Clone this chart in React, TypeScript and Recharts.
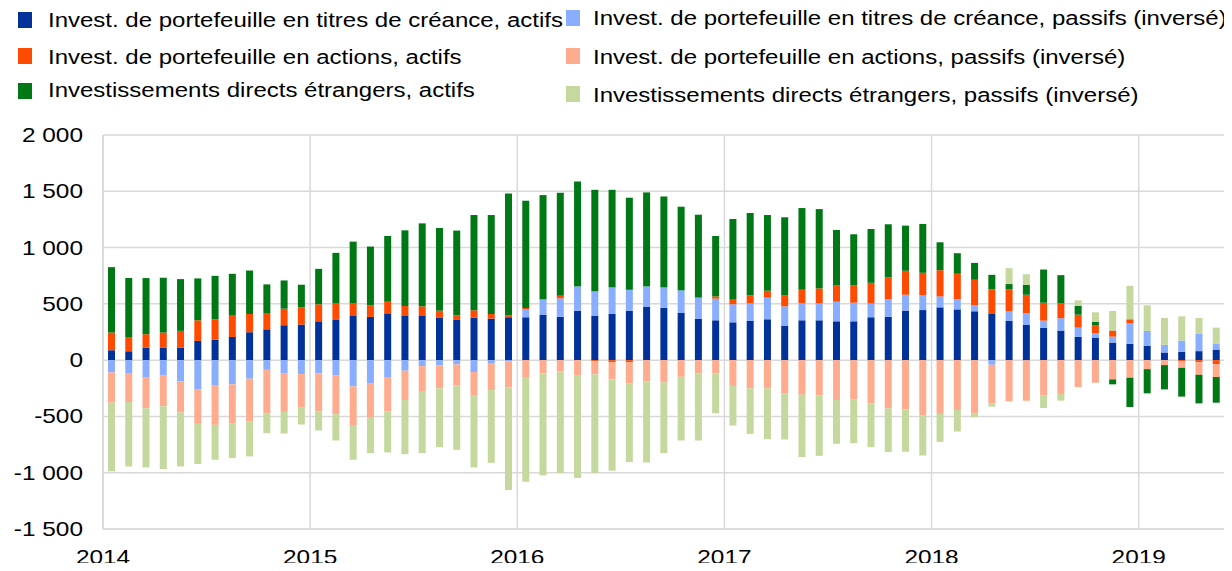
import { BarChart, Bar, XAxis, YAxis, CartesianGrid } from 'recharts';

// monthly values, Jan 2014 - May 2019 (EUR bn)
const debtAssets = [
  88, 80, 109, 109, 112, 171, 183, 206, 248, 274, 310, 316,
  345, 357, 392, 384, 416, 392, 392, 375, 357, 378, 369, 381,
  381, 401, 384, 437, 392, 410, 437, 472, 466, 419, 366, 354,
  336, 348, 363, 307, 354, 354, 345, 345, 381, 386, 440, 445,
  469, 451, 434, 410, 348, 313, 286, 263, 206, 201, 156, 145,
  127, 68, 74, 80, 94,
];
const debtLiab = [
  -109, -115, -156, -133, -189, -257, -227, -215, -165, -86, -115, -124,
  -118, -136, -233, -204, -150, -94, -53, -47, -38, -106, -32, -10,
  70, 139, 165, 218, 219, 236, 188, 183, 180, 201, 186, 192,
  160, 156, 192, 171, 153, 150, 174, 165, 123, 154, 141, 133,
  97, 89, 56, -41, 86, 103, 65, 109, 83, 38, 53, 182,
  133, 68, 100, 153, 51,
];
const equityAssets = [
  157, 126, 121, 136, 148, 183, 180, 189, 162, 145, 147, 153,
  151, 150, 112, 103, 103, 89, 86, 65, 41, 65, 41, 17,
  12, 0, 23, 0, -10, -20, -20, 0, 0, 0, 6, 20,
  41, 71, 62, 100, 118, 133, 145, 154, 183, 195, 213, 198,
  233, 227, 224, 218, 197, 165, 159, 132, 115, 68, 54, 36,
  0, 0, -12, -18, -35,
];
const equityLiab = [
  -269, -257, -272, -277, -277, -309, -348, -345, -381, -386, -345, -298,
  -339, -345, -351, -309, -307, -260, -221, -204, -186, -204, -234, -230,
  -150, -118, -100, -133, -117, -151, -186, -189, -198, -148, -118, -118,
  -230, -251, -251, -298, -307, -313, -354, -348, -384, -428, -437, -490,
  -478, -443, -472, -343, -366, -360, -316, -301, -239, -201, -171, -156,
  -80, -44, -56, -112, -115,
];
const fdiAssets = [
  581, 523, 499, 487, 460, 372, 386, 372, 386, 254, 251, 201,
  315, 446, 549, 522, 584, 672, 737, 734, 753, 846, 879, 1083,
  953, 926, 915, 932, 902, 867, 818, 835, 808, 743, 734, 537,
  717, 732, 672, 691, 726, 705, 492, 454, 478, 472, 401, 434,
  248, 183, 150, 130, 45, 86, 295, 251, 77, 32, -44, -260,
  -215, -216, -256, -254, -228,
];
const fdiLiab = [
  -610, -572, -525, -558, -478, -357, -310, -310, -309, -177, -192, -150,
  -168, -233, -301, -313, -363, -481, -552, -522, -573, -643, -646, -914,
  -930, -906, -903, -914, -876, -811, -700, -720, -628, -566, -596, -354,
  -351, -404, -451, -407, -554, -537, -389, -390, -389, -389, -377, -357,
  -248, -191, -35, -29, 141, 97, -109, -59, 50, 86, 174, 298,
  227, 239, 215, 142, 144,
];

const yearLabels = ['2014', '2015', '2016', '2017', '2018', '2019'];
const yTicks = [-1500, -1000, -500, 0, 500, 1000, 1500, 2000];

const series = [
  { key: 'debtA', color: '#003299', name: 'Invest. de portefeuille en titres de créance, actifs' },
  { key: 'debtL', color: '#8aaeff', name: 'Invest. de portefeuille en titres de créance, passifs (inversé)' },
  { key: 'eqA', color: '#ff4b00', name: 'Invest. de portefeuille en actions, actifs' },
  { key: 'eqL', color: '#ffac8e', name: 'Invest. de portefeuille en actions, passifs (inversé)' },
  { key: 'fdiA', color: '#007816', name: 'Investissements directs étrangers, actifs' },
  { key: 'fdiL', color: '#c5d89e', name: 'Investissements directs étrangers, passifs (inversé)' },
];

const data = debtAssets.map((v, i) => ({
  x: i + 0.5,
  debtA: v,
  debtL: debtLiab[i],
  eqA: equityAssets[i],
  eqL: equityLiab[i],
  fdiA: fdiAssets[i],
  fdiL: fdiLiab[i],
}));

const legendPos = [
  { left: 18, top: 12, textLeft: 48, textTop: 8 },
  { left: 566, top: 10, textLeft: 593, textTop: 6 },
  { left: 18, top: 48, textLeft: 48, textTop: 45 },
  { left: 566, top: 48, textLeft: 593, textTop: 45 },
  { left: 18, top: 83, textLeft: 48, textTop: 78 },
  { left: 566, top: 86, textLeft: 593, textTop: 83 },
];

const fmt = (v: number) => {
  const s = Math.abs(v).toString().replace(/\B(?=(\d{3})+(?!\d))/g, ' ');
  return v < 0 ? '-' + s : s;
};

const YTick = ({ x, y, payload }: any) => (
  <g transform={`translate(${x - 18},${y}) scale(1.22,1)`}>
    <text textAnchor="end" dy="0.35em" fontSize={20} fill="#000">
      {fmt(payload.value)}
    </text>
  </g>
);

const XTick = ({ x, y, payload }: any) => (
  <g transform={`translate(${x},${y + 33}) scale(1.22,1)`}>
    <text textAnchor="middle" fontSize={20} fill="#000">
      {yearLabels[payload.value / 12]}
    </text>
  </g>
);

export default function App() {
  return (
    <div
      style={{
        position: 'relative',
        width: 1232,
        height: 571,
        margin: -8,
        background: '#fff',
        fontFamily: '"Liberation Sans", Arial, sans-serif',
      }}
    >
      {series.map((s, i) => (
        <div key={s.key}>
          <div
            style={{
              position: 'absolute',
              left: legendPos[i].left,
              top: legendPos[i].top,
              width: 14,
              height: 16,
              background: s.color,
            }}
          />
          <div
            style={{
              position: 'absolute',
              left: legendPos[i].textLeft,
              top: legendPos[i].textTop,
              fontSize: 20,
              lineHeight: '24px',
              whiteSpace: 'nowrap',
              transform: 'scaleX(1.2)',
              transformOrigin: 'left',
              color: '#000',
            }}
          >
            {s.name}
          </div>
        </div>
      ))}
      <div style={{ position: 'absolute', left: 0, top: 0 }}>
        <BarChart
          width={1232}
          height={571}
          data={data}
          stackOffset="sign"
          margin={{ top: 135, right: 7, bottom: 0, left: 8 }}
          style={{ fontFamily: '"Liberation Sans", Arial, sans-serif' }}
        >
          <CartesianGrid stroke="#d9d9d9" strokeWidth={1.5} />
          <XAxis
            dataKey="x"
            type="number"
            domain={[0, 65]}
            ticks={yearLabels.map((_, i) => i * 12)}
            height={42}
            tickSize={0}
            tickLine={false}
            axisLine={{ stroke: '#d9d9d9', strokeWidth: 1.5 }}
            tick={<XTick />}
            interval={0}
          />
          <YAxis
            domain={[-1500, 2000]}
            ticks={yTicks}
            width={95}
            tickSize={0}
            tickLine={false}
            axisLine={{ stroke: '#d9d9d9', strokeWidth: 1.5 }}
            tick={<YTick />}
            interval={0}
          />
          {series.map((s) => (
            <Bar
              key={s.key}
              dataKey={s.key}
              stackId="a"
              fill={s.color}
              barSize={7}
              isAnimationActive={false}
            />
          ))}
        </BarChart>
      </div>
    </div>
  );
}
